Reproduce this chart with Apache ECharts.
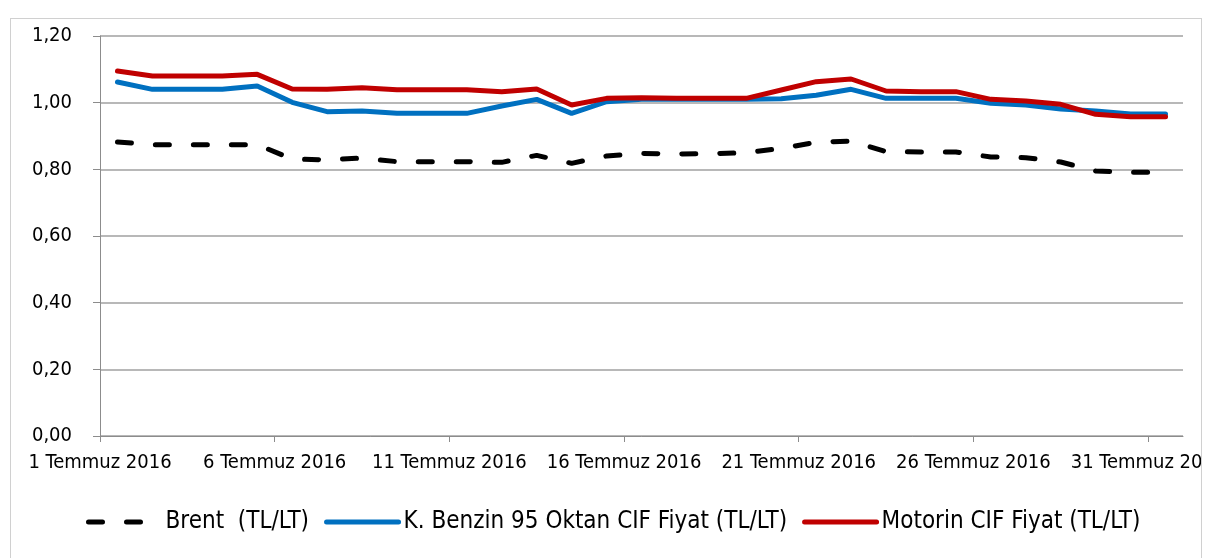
<!DOCTYPE html>
<html>
<head>
<meta charset="utf-8">
<script src="https://cdn.jsdelivr.net/npm/echarts@6/dist/echarts.min.js"></script>
<style>
    html, body { margin: 0; padding: 0; background: #fff; }
    #wrap { position: relative; width: 1218px; height: 558px; overflow: hidden; }
    #fiyatChart { position: absolute; left: 0; top: 0; width: 1218px; height: 558px; }
    #cut { position: absolute; left: 1202px; top: 0; width: 16px; height: 558px; background: #fff; }
    #frame { position: absolute; left: 10px; top: 18px; width: 1190px; height: 560px;
             border: 1px solid #d0d0d0; pointer-events: none; }
</style>
</head>
<body>
<div id="wrap">
    <div id="fiyatChart"></div>
    <div id="cut"></div>
    <div id="frame"></div>
</div>
<script>
// Temmuz 2016 gunleri
var days = [1, 2, 3, 4, 5, 6, 7, 8, 9, 10, 11, 12, 13, 14, 15, 16,
            17, 18, 19, 20, 21, 22, 23, 24, 25, 26, 27, 28, 29, 30, 31];
var tickDays = [1, 6, 11, 16, 21, 26, 31];

var seriesNames = ['Brent  (TL/LT)', 'K. Benzin 95 Oktan CIF Fiyat (TL/LT)', 'Motorin CIF Fiyat (TL/LT)'];

var brent = [0.882, 0.874, 0.874, 0.874, 0.874, 0.831, 0.828, 0.834, 0.823, 0.823, 0.823,
             0.821, 0.842, 0.818, 0.840, 0.848, 0.846, 0.847, 0.850, 0.863, 0.881, 0.885,
             0.853, 0.852, 0.852, 0.837, 0.835, 0.822, 0.795, 0.791, 0.791];
var benzin = [1.062, 1.040, 1.040, 1.040, 1.050, 1.001, 0.973, 0.975, 0.968, 0.968, 0.968,
              0.990, 1.010, 0.968, 1.003, 1.010, 1.010, 1.010, 1.010, 1.012, 1.022, 1.040,
              1.013, 1.013, 1.013, 0.998, 0.993, 0.981, 0.975, 0.966, 0.966];
var motorin = [1.095, 1.080, 1.080, 1.080, 1.085, 1.041, 1.040, 1.045, 1.039, 1.039, 1.039,
               1.033, 1.041, 0.993, 1.013, 1.015, 1.013, 1.013, 1.013, 1.038, 1.063, 1.071,
               1.035, 1.033, 1.033, 1.010, 1.005, 0.995, 0.965, 0.958, 0.958];

// gun ortasina yerlestir (x = gun - 0.5, eksen 1 Temmuz 00:00 = 0)
function pairs(vals) {
    return vals.map(function (v, i) { return [days[i] - 0.5, v]; });
}
var tickPos = tickDays.map(function (d) { return d - 1; });

var FONT = '"DejaVu Sans Condensed", "Liberation Sans", sans-serif';

var myChart = echarts.init(document.getElementById('fiyatChart'));

var option = {
    animation: false,
    backgroundColor: '#fff',
    grid: { left: 100, right: 35, top: 36, bottom: 122, outerBoundsMode: 'none', containLabel: false },
    legend: {
        left: 81,
        top: 505,
        itemWidth: 72,
        itemHeight: 14,
        itemGap: 15,
        itemStyle: { opacity: 0 },
        lineStyle: { width: 5 },
        textStyle: { fontFamily: FONT, fontSize: 24, color: '#000' },
        data: seriesNames
    },
    xAxis: {
        type: 'value',
        min: 0,
        max: 31,
        interval: 5,
        axisLine: { lineStyle: { color: '#8c8c8c', width: 1 } },
        axisTick: {
            show: true, length: 6, inside: false,
            lineStyle: { color: '#8c8c8c' },
            customValues: tickPos
        },
        splitLine: { show: false },
        axisLabel: {
            margin: 17,
            fontFamily: FONT, fontSize: 20, color: '#000',
            customValues: tickPos,
            formatter: function (v) { return (v + 1) + ' Temmuz 2016'; },
            hideOverlap: false
        }
    },
    yAxis: {
        type: 'value',
        min: 0,
        max: 1.2,
        interval: 0.2,
        axisLine: { show: true, lineStyle: { color: '#8c8c8c', width: 1 } },
        axisTick: { show: true, length: 7, inside: false, lineStyle: { color: '#8c8c8c' } },
        splitLine: { lineStyle: { color: '#a0a0a0', width: 1.5 } },
        axisLabel: {
            margin: 28,
            fontFamily: FONT, fontSize: 20, color: '#000',
            formatter: function (v) { return v.toFixed(2).replace('.', ','); }
        }
    },
    series: [
        {
            name: seriesNames[0],
            type: 'line',
            symbol: 'none',
            data: pairs(brent),
            lineStyle: { color: '#000', width: 5, type: [14, 24], cap: 'round' },
            itemStyle: { color: '#000' }
        },
        {
            name: seriesNames[1],
            type: 'line',
            symbol: 'none',
            data: pairs(benzin),
            lineStyle: { color: '#0070c0', width: 5, cap: 'round' },
            itemStyle: { color: '#0070c0' }
        },
        {
            name: seriesNames[2],
            type: 'line',
            symbol: 'none',
            data: pairs(motorin),
            lineStyle: { color: '#c00000', width: 5, cap: 'round' },
            itemStyle: { color: '#c00000' }
        }
    ]
};
myChart.setOption(option);
</script>
</body>
</html>
